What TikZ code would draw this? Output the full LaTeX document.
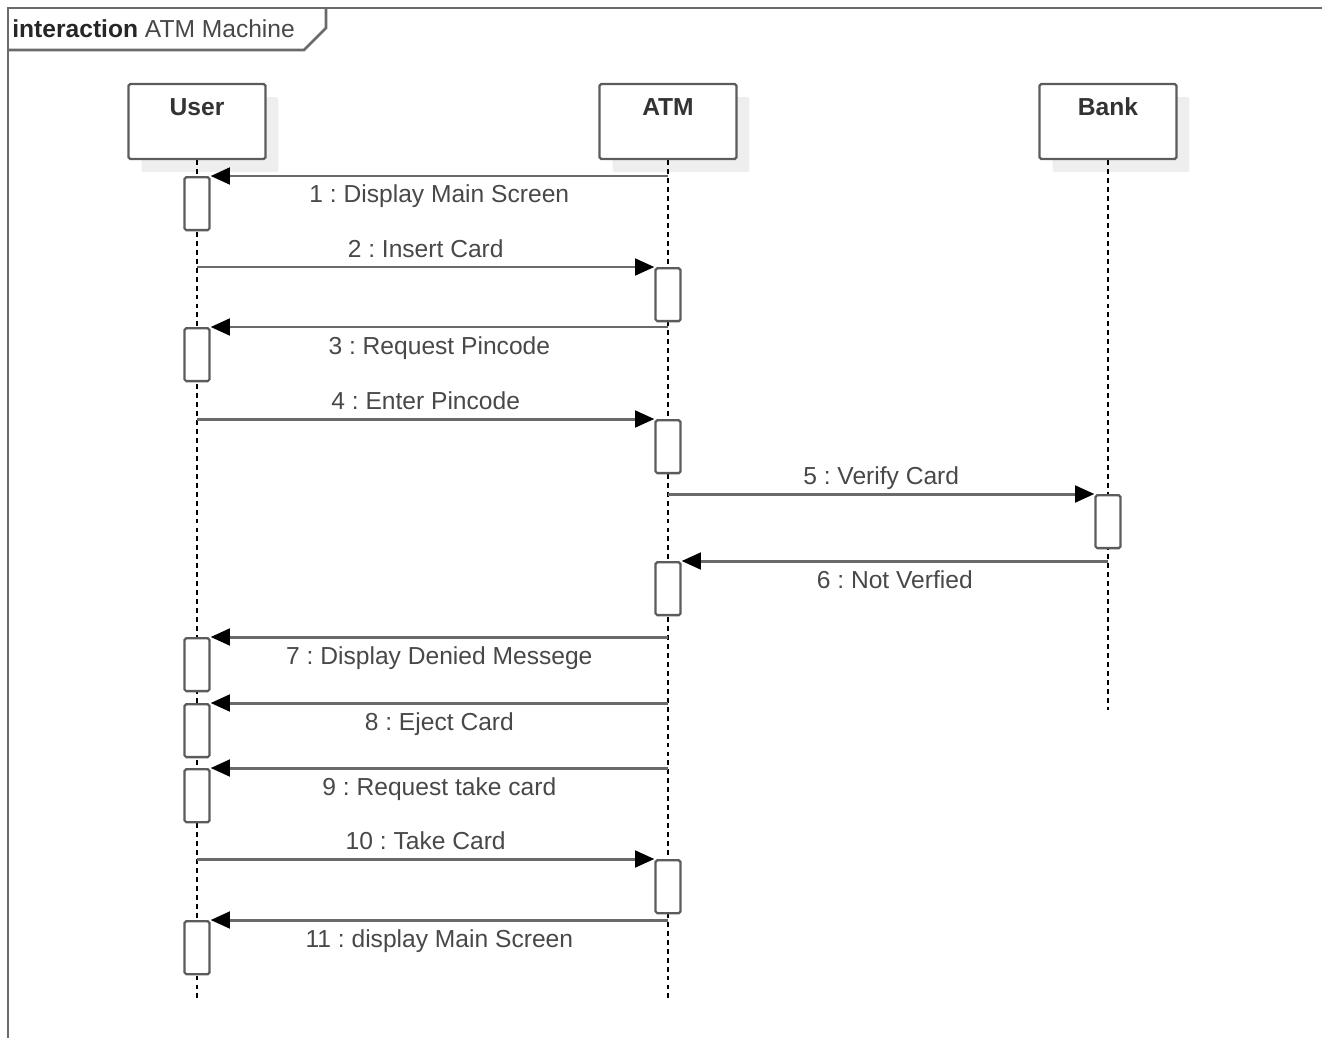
\documentclass[tikz,border=0pt]{standalone}
\usepackage{fontspec}
\setmainfont{Liberation Sans}
\usetikzlibrary{arrows.meta,shadows}
\definecolor{linegray}{HTML}{6A6A6A}
\definecolor{boxgray}{HTML}{5C5C5C}
\definecolor{textgray}{HTML}{484848}
\definecolor{shadowgray}{HTML}{EEEEEE}
\frenchspacing
\begin{document}
\begin{tikzpicture}[x=0.02cm,y=-0.02cm,
    frame/.style={draw=linegray, line width=1.5pt},
    head/.style={draw=boxgray, line width=1.3pt, rounded corners=1pt, fill=white,
        minimum width=2.74cm, minimum height=1.5cm,
        drop shadow={shadow xshift=0.26cm, shadow yshift=-0.26cm, fill=shadowgray, opacity=1}},
    headtext/.style={font=\fontsize{14}{17}\selectfont\bfseries, text=black!80, anchor=base, inner sep=0pt},
    act/.style={draw=boxgray, line width=1.3pt, rounded corners=1pt, fill=white,
        minimum width=0.5cm, minimum height=1.06cm, inner sep=0pt, anchor=north},
    lifeline/.style={line width=1.1pt, dash pattern=on 2.8pt off 2.3pt},
    msg/.style={draw=linegray, line width=1.7pt, -{Triangle[length=11pt,width=9.5pt,color=black]}},
    msgtext/.style={font=\fontsize{14}{17}\selectfont, text=textgray, inner sep=0pt, anchor=base, midway},
    over/.style={yshift=0.2cm},
    under/.style={yshift=-0.54cm},
]
    \useasboundingbox (0,0) rectangle (1322,1038);

    %Frame
        \draw[frame] (8,1038)--(8,8)--(1322,8);
        \draw[frame] (8,50)--(304,50)--(326,28)--(326,8);
        \node[font=\fontsize{14}{17}\selectfont, text=textgray, anchor=base west, inner sep=0pt] (title) at (12,37)
            {\textcolor{black!85}{\textbf{interaction}} ATM Machine};

    %Heads
        \node[head] (user) at (197,121.5) {};
        \node[head] (atm) at (668,121.5) {};
        \node[head] (bank) at (1108,121.5) {};
        \node[headtext] (usertxt) at ([yshift=-0.66cm]user.north) {User};
        \node[headtext] (atmtxt) at ([yshift=-0.66cm]atm.north) {ATM};
        \node[headtext] (banktxt) at ([yshift=-0.66cm]bank.north) {Bank};

    %Lifelines
        \coordinate (userend) at (197,1000);
        \coordinate (atmend) at (668,1000);
        \coordinate (bankend) at (1108,710);
        \draw[lifeline] (user.south)--(userend);
        \draw[lifeline] (atm.south)--(atmend);
        \draw[lifeline] (bank.south)--(bankend);

    %Activations
        \node[act] (a1) at (197,176) {};
        \node[act] (a2) at (668,267) {};
        \node[act] (a3) at (197,327) {};
        \node[act] (a4) at (668,419) {};
        \node[act] (a5) at (1108,494) {};
        \node[act] (a6) at (668,561) {};
        \node[act] (a7) at (197,637) {};
        \node[act] (a8) at (197,703) {};
        \node[act] (a9) at (197,768) {};
        \node[act] (a10) at (668,859) {};
        \node[act] (a11) at (197,920) {};

    %Messages
        \draw[msg] (atm |- a1.north)--(a1.north east) node[msgtext, under] {1 : Display Main Screen};
        \draw[msg] (user |- a2.north)--(a2.north west) node[msgtext, over] {2 : Insert Card};
        \draw[msg] (atm |- a3.north)--(a3.north east) node[msgtext, under] {3 : Request Pincode};
        \draw[msg] (user |- a4.north)--(a4.north west) node[msgtext, over] {4 : Enter Pincode};
        \draw[msg] (atm |- a5.north)--(a5.north west) node[msgtext, over] {5 : Verify Card};
        \draw[msg] (bank |- a6.north)--(a6.north east) node[msgtext, under] {6 : Not Verfied};
        \draw[msg] (atm |- a7.north)--(a7.north east) node[msgtext, under] {7 : Display Denied Messege};
        \draw[msg] (atm |- a8.north)--(a8.north east) node[msgtext, under] {8 : Eject Card};
        \draw[msg] (atm |- a9.north)--(a9.north east) node[msgtext, under] {9 : Request take card};
        \draw[msg] (user |- a10.north)--(a10.north west) node[msgtext, over] {10 : Take Card};
        \draw[msg] (atm |- a11.north)--(a11.north east) node[msgtext, under] {11 : display Main Screen};
\end{tikzpicture}
\end{document}
